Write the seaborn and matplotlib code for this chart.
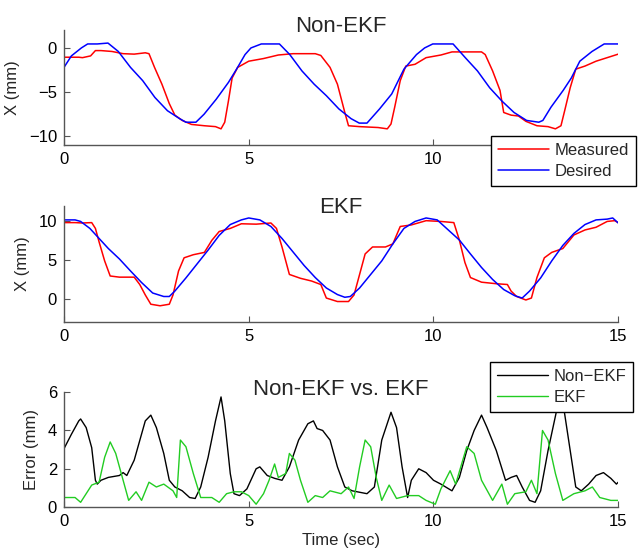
import matplotlib
matplotlib.use("Agg")
import matplotlib.pyplot as plt
import seaborn as sns
import pandas as pd

# ---------------- data ----------------
# Panel 1: Non-EKF
t_des1 = [0, 0.2, 0.47, 0.64, 0.9, 1.19, 1.47, 1.8, 2.13, 2.46, 2.8, 3.13, 3.3, 3.57, 3.79, 4.12, 4.45,
          4.67, 4.9, 5.06, 5.34, 5.83, 6.11, 6.44, 6.77, 7.1, 7.44, 7.77, 7.99, 8.2, 8.54, 8.87, 9.2,
          9.54, 9.76, 9.98, 10.53, 10.86, 11.19, 11.52, 11.85, 12.18, 12.52, 12.85, 12.96, 13.18,
          13.51, 13.73, 13.96, 14.29, 14.62, 15.0]
x_des1 = [-2.2, -0.9, 0.0, 0.45, 0.45, 0.55, -0.4, -2.2, -3.7, -5.6, -7.1, -8.0, -8.4, -8.4, -7.5,
          -5.8, -3.9, -2.4, -0.75, 0.0, 0.45, 0.45, -0.75, -2.6, -4.1, -5.4, -6.9, -8.0, -8.5, -8.5,
          -6.9, -5.2, -2.4, -0.75, 0.0, 0.45, 0.45, -1.1, -2.6, -4.5, -6.0, -7.3, -8.2, -8.4, -8.2,
          -6.7, -4.8, -3.4, -1.5, -0.4, 0.45, 0.45]
t_mea1 = [0, 0.4, 0.5, 0.72, 0.85, 1.0, 1.3, 1.6, 1.9, 2.2, 2.3, 2.45, 2.65, 2.85, 3.0, 3.2, 3.45,
          3.8, 4.1, 4.25, 4.35, 4.45, 4.55, 4.7, 5.0, 5.4, 5.8, 6.2, 6.8, 6.95, 7.2, 7.4, 7.6, 7.7,
          8.0, 8.5, 8.75, 8.85, 8.95, 9.1, 9.25, 9.5, 9.8, 10.2, 10.5, 10.9, 11.3, 11.4, 11.6, 11.8,
          11.9, 12.1, 12.3, 12.5, 12.8, 13.1, 13.3, 13.45, 13.55, 13.7, 13.85, 14.1, 14.4, 14.7, 15.0]
x_mea1 = [-1.05, -1.05, -1.1, -0.9, -0.3, -0.3, -0.4, -0.65, -0.7, -0.55, -0.65, -2.2, -4.1, -6.3,
          -7.6, -8.2, -8.65, -8.8, -8.9, -9.15, -8.4, -6.0, -3.4, -2.2, -1.5, -1.2, -0.8, -0.65,
          -0.65, -0.85, -2.2, -4.1, -7.3, -8.8, -8.9, -9.0, -9.15, -8.6, -6.7, -3.7, -2.05, -1.85,
          -1.1, -0.8, -0.45, -0.45, -0.45, -0.75, -2.6, -4.8, -7.3, -7.6, -7.7, -8.3, -8.8, -8.9,
          -9.15, -8.8, -7.1, -4.5, -2.4, -2.05, -1.5, -1.1, -0.7]

# Panel 2: EKF
t_des2 = [0, 0.3, 0.45, 0.7, 0.95, 1.2, 1.5, 1.8, 2.1, 2.4, 2.7, 2.85, 3.0, 3.3, 3.6, 3.9, 4.2, 4.5,
          4.8, 5.0, 5.3, 5.6, 5.9, 6.2, 6.5, 6.8, 7.1, 7.4, 7.6, 7.75, 8.0, 8.3, 8.6, 8.9, 9.2, 9.5,
          9.8, 10.1, 10.4, 10.7, 11.0, 11.3, 11.6, 11.9, 12.2, 12.4, 12.6, 12.9, 13.2, 13.5, 13.8,
          14.1, 14.4, 14.7, 14.85, 15.0]
x_des2 = [10.2, 10.2, 10.0, 9.1, 7.8, 6.5, 5.15, 3.6, 2.1, 0.75, 0.3, 0.3, 1.0, 2.7, 4.5, 6.3, 8.2,
          9.6, 10.2, 10.45, 10.2, 9.35, 7.8, 6.05, 4.3, 2.75, 1.4, 0.55, 0.2, 0.3, 1.4, 3.15, 4.9,
          7.1, 9.1, 10.0, 10.45, 10.2, 8.9, 7.6, 5.8, 4.05, 2.5, 1.2, 0.4, 0.1, 1.0, 2.7, 4.9, 6.9,
          8.45, 9.6, 10.2, 10.3, 10.45, 9.8]
t_mea2 = [0, 0.3, 0.5, 0.75, 0.85, 0.95, 1.1, 1.25, 1.5, 1.9, 2.05, 2.2, 2.35, 2.6, 2.85, 2.95, 3.1,
          3.25, 3.5, 3.8, 4.0, 4.2, 4.5, 4.8, 5.2, 5.6, 5.75, 5.9, 6.1, 6.4, 6.7, 6.95, 7.1, 7.4,
          7.7, 7.85, 8.0, 8.15, 8.35, 8.7, 8.9, 9.1, 9.4, 9.8, 10.2, 10.55, 10.7, 10.85, 11.0, 11.3,
          11.7, 12.0, 12.1, 12.25, 12.5, 12.65, 12.8, 13.0, 13.2, 13.5, 13.8, 14.1, 14.4, 14.7,
          14.9, 15.0]
x_mea2 = [9.85, 9.85, 9.8, 9.85, 9.1, 7.35, 4.9, 2.95, 2.8, 2.8, 1.85, 0.5, -0.7, -0.9, -0.7, 0.5,
          3.6, 5.3, 5.7, 6.0, 7.55, 8.7, 9.1, 9.7, 9.65, 9.8, 9.1, 6.7, 3.15, 2.65, 2.3, 1.85, 0.1,
          -0.35, -0.35, 0.5, 3.15, 5.8, 6.7, 6.7, 7.1, 9.35, 9.55, 10.1, 10.0, 9.85, 7.6, 4.7, 2.75,
          2.15, 1.95, 1.85, 1.0, 0.3, -0.15, 0.1, 2.75, 5.3, 6.0, 6.5, 8.25, 8.9, 9.25, 10.0, 10.1,
          9.85]

# Panel 3: error
t_err_n = [0, 0.2, 0.4, 0.45, 0.6, 0.75, 0.85, 0.9, 1.0, 1.2, 1.5, 1.6, 1.7, 1.9, 2.2, 2.35, 2.5,
           2.7, 2.85, 3.0, 3.2, 3.4, 3.55, 3.7, 3.9, 4.1, 4.25, 4.35, 4.5, 4.6, 4.75, 4.95, 5.2, 5.3,
           5.5, 5.7, 5.9, 6.1, 6.35, 6.6, 6.75, 6.85, 7.0, 7.2, 7.4, 7.6, 7.8, 8.2, 8.4, 8.6, 8.85,
           9.0, 9.15, 9.3, 9.4, 9.6, 9.8, 10.0, 10.2, 10.5, 10.7, 10.9, 11.1, 11.3, 11.45, 11.7,
           11.95, 12.1, 12.25, 12.4, 12.6, 12.75, 12.9, 13.1, 13.35, 13.5, 13.7, 13.85, 14.0, 14.2,
           14.4, 14.6, 14.8, 14.95, 15.0]
e_non = [3.05, 3.8, 4.5, 4.6, 4.15, 3.1, 1.4, 1.2, 1.4, 1.55, 1.65, 1.8, 1.65, 2.45, 4.5, 4.8,
         4.15, 2.8, 1.4, 1.05, 0.85, 0.5, 0.45, 1.05, 2.6, 4.5, 5.75, 4.5, 1.75, 0.7, 0.6, 0.95,
         2.0, 2.1, 1.65, 1.5, 1.4, 2.1, 3.5, 4.35, 4.5, 4.1, 4.0, 3.5, 2.1, 1.05, 0.85, 0.7, 1.05,
         3.5, 4.95, 4.15, 2.1, 0.5, 1.4, 2.0, 1.8, 1.4, 1.2, 0.85, 1.55, 2.95, 4.0, 4.8, 4.15,
         2.95, 1.4, 1.55, 1.65, 1.05, 0.35, 0.25, 0.85, 2.95, 5.2, 5.5, 2.95, 1.05, 0.85, 1.2,
         1.65, 1.8, 1.5, 1.2, 1.3]
t_err_e = [0, 0.3, 0.45, 0.6, 0.75, 0.95, 1.1, 1.25, 1.4, 1.6, 1.75, 1.95, 2.1, 2.3, 2.5, 2.7, 2.95,
           3.05, 3.15, 3.3, 3.5, 3.7, 4.0, 4.2, 4.4, 4.6, 4.8, 5.0, 5.2, 5.4, 5.55, 5.7, 5.8, 6.0,
           6.1, 6.25, 6.4, 6.6, 6.8, 7.0, 7.2, 7.5, 7.7, 7.85, 8.0, 8.15, 8.3, 8.45, 8.6, 8.8, 9.0,
           9.3, 9.6, 9.8, 10.05, 10.2, 10.45, 10.6, 10.9, 11.1, 11.3, 11.6, 11.85, 12.0, 12.2, 12.5,
           12.65, 12.8, 12.95, 13.1, 13.3, 13.5, 13.8, 14.1, 14.3, 14.5, 14.8, 15.0]
e_ekf = [0.5, 0.5, 0.25, 0.7, 1.15, 1.3, 2.6, 3.4, 2.8, 1.4, 0.35, 0.8, 0.35, 1.3, 1.05, 1.2, 0.85,
         0.5, 3.5, 3.15, 1.75, 0.5, 0.5, 0.25, 0.7, 0.8, 0.8, 0.6, 0.15, 0.7, 1.4, 2.25, 1.55, 1.75,
         2.8, 2.45, 1.4, 0.25, 0.6, 0.5, 0.85, 0.7, 1.05, 0.45, 2.1, 3.5, 3.15, 1.55, 0.35, 1.15,
         0.45, 0.6, 0.6, 0.35, 0.15, 0.95, 1.9, 1.2, 3.15, 2.8, 1.4, 0.35, 1.2, 0.15, 0.7, 0.8,
         1.4, 0.7, 4.0, 3.5, 1.75, 0.35, 0.7, 0.85, 1.05, 0.5, 0.35, 0.35]

xticks = [0, 5, 10, 15]
xticks_top = [0, 5, 10]   # the 15 tick of the top panel lies under its legend

# ---------------- style ----------------
sns.set_theme(style="ticks")
plt.rcParams["font.family"] = ["Liberation Sans", "DejaVu Sans"]
plt.rcParams["xtick.direction"] = "in"
plt.rcParams["ytick.direction"] = "in"

fig = plt.figure(figsize=(6.4, 5.5), dpi=100)
ax1 = fig.add_axes([0.1, 0.736, 0.866, 0.209])
ax2 = fig.add_axes([0.1, 0.4145, 0.866, 0.211])
ax3 = fig.add_axes([0.1, 0.078, 0.866, 0.209])

RED, BLUE, GREEN = "#ff0000", "#0000ff", "#22cc22"

sns.lineplot(x=t_mea1, y=x_mea1, ax=ax1, color=RED, lw=1.1, label="Measured", estimator=None)
sns.lineplot(x=t_des1, y=x_des1, ax=ax1, color=BLUE, lw=1.1, label="Desired", estimator=None)
sns.lineplot(x=t_mea2, y=x_mea2, ax=ax2, color=RED, lw=1.1, estimator=None, legend=False)
sns.lineplot(x=t_des2, y=x_des2, ax=ax2, color=BLUE, lw=1.1, estimator=None, legend=False)
sns.lineplot(x=t_err_n, y=e_non, ax=ax3, color="black", lw=1.0, label="Non\u2212EKF", estimator=None)
sns.lineplot(x=t_err_e, y=e_ekf, ax=ax3, color=GREEN, lw=1.0, label="EKF", estimator=None)

ax1.set_ylim(-11, 2); ax1.set_yticks([-10, -5, 0])
ax2.set_ylim(-3, 12); ax2.set_yticks([0, 5, 10])
ax3.set_ylim(0, 6); ax3.set_yticks([0, 2, 4, 6])

for ax in (ax1, ax2, ax3):
    ax.set_xlim(0, 15)
    ax.set_xticks(xticks)
    sns.despine(ax=ax)
    for s in ("left", "bottom"):
        ax.spines[s].set_color("#555555")
        ax.spines[s].set_linewidth(1.0)
    ax.tick_params(labelsize=12, length=4, width=0.8, color="#555555", pad=5, labelcolor="black")
ax1.set_xticks(xticks_top)

ax1.set_ylabel("X (mm)", fontsize=12, labelpad=6)
ax2.set_ylabel("X (mm)", fontsize=12, labelpad=6)
ax3.set_ylabel("Error (mm)", fontsize=12, labelpad=6)
ax1.set_xlabel(""); ax2.set_xlabel("")
ax3.set_xlabel("Time (sec)", fontsize=12, labelpad=3)

ax1.text(0.5, 0.983, "Non-EKF", transform=ax1.transAxes, ha="center", va="baseline", fontsize=16)
ax2.text(0.5, 0.94, "EKF", transform=ax2.transAxes, ha="center", va="baseline", fontsize=16)
ax3.text(0.5, 0.974, "Non-EKF vs. EKF", transform=ax3.transAxes, ha="center", va="baseline", fontsize=16)

leg_kw = dict(fontsize=12, frameon=True, fancybox=False, edgecolor="black", framealpha=1,
              loc="upper left", borderaxespad=0, handlelength=3.05, handletextpad=0.36,
              labelspacing=0.38, borderpad=0.4)
l1 = ax1.legend(bbox_to_anchor=(0.771, 0.078), **leg_kw)
l3 = ax3.legend(bbox_to_anchor=(0.769, 1.26), **leg_kw)
for l in (l1, l3):
    l.get_frame().set_linewidth(1.0)
    l.set_zorder(10)
    l.set_clip_on(False)

fig.savefig("out.png", dpi=100)
